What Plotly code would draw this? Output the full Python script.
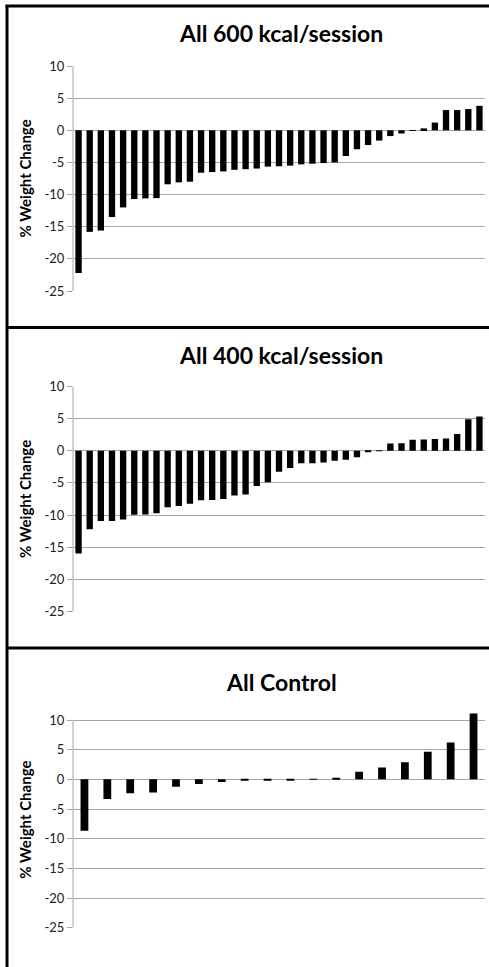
import plotly.graph_objects as go

W, H = 489, 967

titles = ["All 600 kcal/session", "All 400 kcal/session", "All Control"]

kcal600 = [-22.2, -15.8, -15.6, -13.5, -12.0, -10.7, -10.6, -10.55, -8.4, -8.1, -8.0,
           -6.6, -6.5, -6.4, -6.15, -6.05, -5.95, -5.65, -5.6, -5.5, -5.3, -5.2, -5.1,
           -5.0, -4.0, -2.95, -2.3, -1.6, -0.9, -0.5, -0.05, 0.3, 1.2, 3.15, 3.15, 3.3, 3.8]

kcal400 = [-15.95, -12.2, -10.9, -10.9, -10.7, -9.95, -9.9, -9.7, -8.8, -8.6, -8.25,
           -7.7, -7.65, -7.5, -6.95, -6.8, -5.5, -4.9, -3.25, -2.7, -1.95, -1.95, -1.85,
           -1.55, -1.4, -1.0, -0.2, -0.05, 1.1, 1.15, 1.7, 1.75, 1.8, 1.9, 2.6, 4.9, 5.3]

control = [-8.65, -3.3, -2.35, -2.2, -1.25, -0.8, -0.45, -0.25, -0.2, -0.08, 0.08,
           0.2, 1.3, 2.0, 2.9, 4.65, 6.2, 11.1]

tick_vals = [10, 5, 0, -5, -10, -15, -20, -25]
tick_text = ["10", "5", "0", "-5", "-10", "-15", "-20", "-25"]
y_title = "% Weight Change"

series = [kcal600, kcal400, control]
bargaps = [0.43, 0.43, 0.66]

# pixel geometry of each panel's plot area (pixel of +10, pixel of -25) and title y
plot_px = [(66, 291), (386.3, 611.7), (720, 927.7)]
title_px = [33, 355, 682]
x_left, x_right = 73, 485
y_lo, y_hi = -25, 10

fig = go.Figure()
font_fam = "Lato, 'Open Sans', sans-serif"
grid_c = "#a6a6a6"

for i, vals in enumerate(series):
    n = i + 1
    xa = "x" if n == 1 else f"x{n}"
    ya = "y" if n == 1 else f"y{n}"
    cats = [str(k + 1) for k in range(len(vals))]
    fig.add_trace(go.Bar(x=cats, y=vals, xaxis=xa, yaxis=ya,
                         marker=dict(color="black", line=dict(width=0)),
                         width=1 - bargaps[i],
                         showlegend=False, hoverinfo="skip"))
    top, bot = plot_px[i]
    # extend the axis range upwards if a bar exceeds +10 so it is not clipped
    top_val = max(y_hi, max(vals) + 0.3)
    px_per_unit = (bot - top) / (y_hi - y_lo)
    top_px = top - (top_val - y_hi) * px_per_unit
    xkey = "xaxis" if n == 1 else f"xaxis{n}"
    ykey = "yaxis" if n == 1 else f"yaxis{n}"
    fig.layout[xkey] = dict(domain=[x_left / W, x_right / W], anchor=ya,
                            showticklabels=False, showgrid=False, zeroline=False,
                            showline=False, ticks="", fixedrange=True, automargin=False)
    fig.layout[ykey] = dict(domain=[1 - bot / H, 1 - top_px / H], anchor=xa,
                            range=[y_lo, top_val], tickvals=tick_vals, ticktext=tick_text,
                            showgrid=True, gridcolor=grid_c, gridwidth=1,
                            zeroline=True, zerolinecolor=grid_c, zerolinewidth=1,
                            showline=False,
                            ticks="outside", ticklen=5, tickcolor=grid_c,
                            tickfont=dict(family=font_fam, size=13, color="#222222"),
                            title=dict(text=f"<b>{y_title}</b>", standoff=9,
                                       font=dict(family=font_fam, size=15, color="black")),
                            fixedrange=True, automargin=False)
    # vertical axis line from -25 to +10
    fig.add_shape(type="line", xref=f"{xa} domain", yref=ya, x0=0, x1=0,
                  y0=y_lo, y1=y_hi, line=dict(color=grid_c, width=1))
    fig.add_annotation(text=f"<b>{titles[i]}</b>", x=(x_left + x_right) / 2 / W + 0.005,
                       y=1 - title_px[i] / H, xref="paper", yref="paper",
                       showarrow=False, xanchor="center", yanchor="middle",
                       font=dict(family=font_fam, size=23, color="black"))

# panel borders
border = dict(color="black", width=3)
fig.add_shape(type="line", xref="paper", yref="paper", x0=7 / W, x1=7 / W, y0=0, y1=1 - 5 / H, line=border)
fig.add_shape(type="line", xref="paper", yref="paper", x0=5.5 / W, x1=1, y0=1 - 6 / H, y1=1 - 6 / H, line=border)
fig.add_shape(type="line", xref="paper", yref="paper", x0=7 / W, x1=1, y0=1 - 327.5 / H, y1=1 - 327.5 / H, line=border)
fig.add_shape(type="line", xref="paper", yref="paper", x0=7 / W, x1=1, y0=1 - 648 / H, y1=1 - 648 / H, line=border)

fig.update_layout(width=W, height=H, margin=dict(l=0, r=0, t=0, b=0, autoexpand=False),
                  paper_bgcolor="white", plot_bgcolor="white", bargap=0.43)

fig.write_html("out.html", config={"displayModeBar": False},
               post_script="document.body.style.margin='0';document.body.style.overflow='hidden';")
